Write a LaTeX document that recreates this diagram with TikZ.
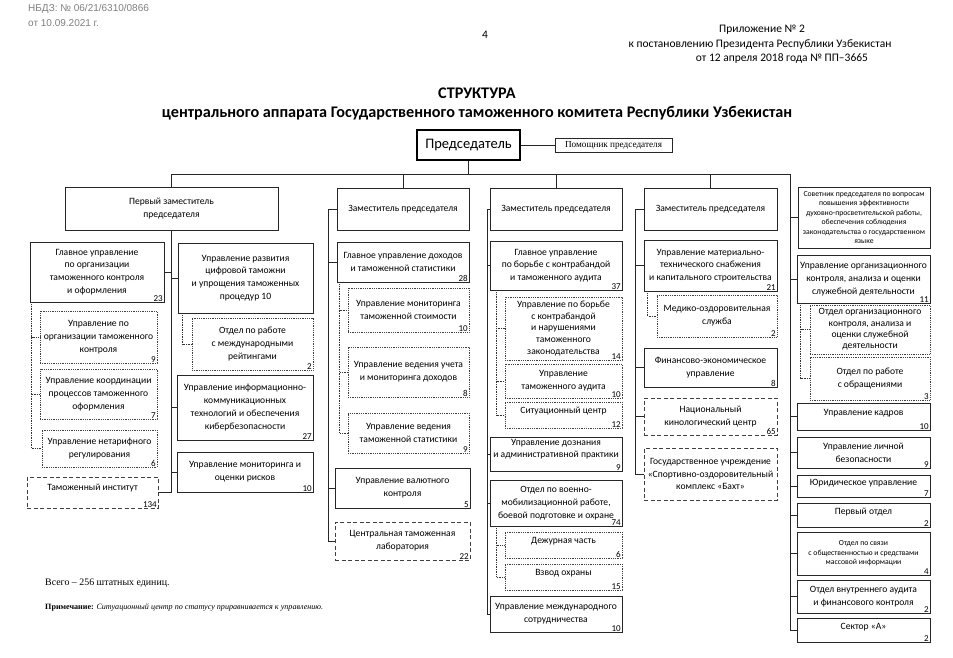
\documentclass[tikz,border=0pt]{standalone}
\usepackage{fontspec}
\setmainfont{Carlito}
\newfontfamily\tmsfont{Liberation Serif}
\newfontfamily\arlfont{Liberation Sans}
\usetikzlibrary{positioning}

\begin{document}
\begin{tikzpicture}[x=1pt, y=-1pt, every node/.style={font=\fontsize{9.6}{12.8}\selectfont},
	ln/.style={draw=black!85, line width=0.7pt},
	dl/.style={draw=black!80, line width=0.7pt, densely dotted},
	b/.style={draw=black!85, line width=0.8pt, fill=white, align=center, inner xsep=0.5pt, inner ysep=1pt},
	sb/.style={b, densely dotted, draw=black!75},
	db/.style={b, dash pattern=on 4pt off 2.5pt, line width=1pt, draw=black!75},
	n/.style={anchor=south east, inner xsep=1.5pt, inner ysep=0.8pt, font=\fontsize{9}{10}\selectfont},
	hd/.style={font=\arlfont\fontsize{10}{12}\selectfont, text=black!50, anchor=west, inner sep=0pt},
	ap/.style={font=\fontsize{11.5}{13}\selectfont, inner sep=0pt},
	tl/.style={font=\bfseries\fontsize{16.2}{18}\selectfont, inner sep=0pt},
	sm/.style={font=\fontsize{7.7}{9.5}\selectfont}]
	\useasboundingbox[fill=white] (0,0) rectangle (953,657);
	\node[hd] (nb1) at (28,9) {НБДЗ: № 06/21/6310/0866};
	\node[hd] (nb2) at (28,23) {от 10.09.2021 г.};
	\node[ap] (pg) at (485,35) {4};
	\node[ap] (ap1) at (762,30) {Приложение № 2};
	\node[ap] (ap2) at (760,45) {к постановлению Президента Республики Узбекистан};
	\node[ap] (ap3) at (782,59) {от 12 апреля 2018 года № ПП–3665};
	\node[tl] (ttl1) at (477,93) {СТРУКТУРА};
	\node[tl] (ttl2) at (477,113) {центрального аппарата Государственного таможенного комитета Республики Узбекистан};

	\node[b, line width=1.8pt, draw=black, minimum width=103, minimum height=30, font=\fontsize{14.5}{16}\selectfont] (ch) at (468.5,145) {Председатель};
	\node[b, minimum width=117, minimum height=14, font=\tmsfont\fontsize{9.2}{10}\selectfont] (as) at (613.5,145) {Помощник председателя};

	\node[b, minimum width=213, minimum height=43] (d1) at (171.5,208.5) {Первый заместитель\\председателя};
	\node[b, minimum width=134, minimum height=60, label={[n]south east:23}] (gu1) at (97,272) {Главное управление\\по организации\\таможенного контроля\\и оформления};
	\node[sb, minimum width=117, minimum height=52, label={[n]south east:9}] (s11) at (98.5,337) {Управление по\\организации таможенного\\контроля};
	\node[sb, minimum width=117, minimum height=50, label={[n]south east:7}] (s12) at (98.5,394) {Управление координации\\процессов таможенного\\оформления};
	\node[sb, minimum width=115, minimum height=37, label={[n]south east:6}] (s13) at (99.5,448.5) {Управление нетарифного\\регулирования};
	\node[db, minimum width=131, minimum height=31, text depth=10pt, label={[n]south east:134}] (inst) at (92.5,492.5) {Таможенный институт};
	\node[b, minimum width=135, minimum height=70] (ur) at (245.5,278) {Управление развития\\цифровой таможни\\и упрощения таможенных\\процедур 10};
	\node[sb, minimum width=121, minimum height=52, label={[n]south east:2}] (s14) at (252.5,344) {Отдел по работе\\с международными\\рейтингами};
	\node[b, minimum width=136, minimum height=65, label={[n]south east:27}] (uikt) at (245,407.5) {Управление информационно-\\коммуникационных\\технологий и обеспечения\\кибербезопасности};
	\node[b, minimum width=136, minimum height=40, label={[n]south east:10}] (umr) at (245,472) {Управление мониторинга и\\оценки рисков};

	\node[b, minimum width=132, minimum height=42] (d2) at (403,209) {Заместитель председателя};
	\node[b, minimum width=132, minimum height=40, label={[n]south east:28}] (gd) at (403,262) {Главное управление доходов\\и таможенной статистики};
	\node[sb, minimum width=121, minimum height=44, label={[n]south east:10}] (s21) at (408.5,310) {Управление мониторинга\\таможенной стоимости};
	\node[sb, minimum width=121, minimum height=50, label={[n]south east:8}] (s22) at (408.5,372) {Управление ведения учета\\и мониторинга доходов};
	\node[sb, minimum width=121, minimum height=40, label={[n]south east:9}] (s23) at (408.5,433) {Управление ведения\\таможенной статистики};
	\node[b, minimum width=135, minimum height=40, label={[n]south east:5}] (uvk) at (402.5,488) {Управление валютного\\контроля};
	\node[db, minimum width=135, minimum height=38, label={[n]south east:22}] (lab) at (402.5,541) {Центральная таможенная\\лаборатория};

	\node[b, minimum width=132, minimum height=42] (d3) at (556,209) {Заместитель председателя};
	\node[b, minimum width=132, minimum height=49, label={[n]south east:37}] (gk) at (556,265.5) {Главное управление\\по борьбе с контрабандой\\и таможенного аудита};
	\node[sb, minimum width=117, minimum height=63, font=\fontsize{9.6}{11.8}\selectfont, label={[n]south east:14}] (s31) at (563.5,328.5) {Управление по борьбе\\с контрабандой\\и нарушениями\\таможенного\\законодательства};
	\node[sb, minimum width=117, minimum height=34, label={[n]south east:10}] (s32) at (563.5,381) {Управление\\таможенного аудита};
	\node[sb, minimum width=117, minimum height=26, text depth=9pt, label={[n]south east:12}] (s33) at (563.5,415) {Ситуационный центр};
	\node[b, minimum width=132, minimum height=34, font=\fontsize{9.6}{11.4}\selectfont, text depth=11pt, label={[n]south east:9}] (ud) at (556,454) {Управление дознания\\и административной практики};
	\node[b, minimum width=132, minimum height=46, label={[n]south east:74}] (ov) at (556,503) {Отдел по военно-\\мобилизационной работе,\\боевой подготовке и охране};
	\node[sb, minimum width=117, minimum height=26, text depth=9pt, label={[n]south east:6}] (s34) at (563.5,545) {Дежурная часть};
	\node[sb, minimum width=117, minimum height=26, text depth=9pt, label={[n]south east:15}] (s35) at (563.5,577) {Взвод охраны};
	\node[b, minimum width=132, minimum height=36, label={[n]south east:10}] (ums) at (556,614) {Управление международного\\сотрудничества};

	\node[b, minimum width=133, minimum height=42] (d4) at (710.5,209) {Заместитель председателя};
	\node[b, minimum width=133, minimum height=51, label={[n]south east:21}] (umt) at (710.5,265.5) {Управление материально-\\технического снабжения\\и капитального строительства};
	\node[sb, minimum width=120, minimum height=42, label={[n]south east:2}] (s41) at (717,316) {Медико-оздоровительная\\служба};
	\node[b, minimum width=133, minimum height=39, label={[n]south east:8}] (fe) at (710.5,367.5) {Финансово-экономическое\\управление};
	\node[db, minimum width=133, minimum height=37, label={[n]south east:65}] (knc) at (710.5,416.5) {Национальный\\кинологический центр};
	\node[db, minimum width=133, minimum height=52] (bakht) at (710.5,474) {Государственное учреждение\\«Спортивно-оздоровительный\\комплекс «Бахт»};

	\node[b, sm, minimum width=132, minimum height=61] (sov) at (864,217.5) {Советник председателя по вопросам\\повышения эффективности\\духовно-просветительской работы,\\обеспечения соблюдения\\законодательства о государственном\\языке};
	\node[b, minimum width=133, minimum height=48, label={[n]south east:11}] (uok) at (863.5,279) {Управление организационного\\контроля, анализа и оценки\\служебной деятельности};
	\node[sb, minimum width=120, minimum height=49, font=\fontsize{9.6}{11.3}\selectfont] (s51) at (870,329.5) {Отдел организационного\\контроля, анализа и\\оценки служебной\\деятельности};
	\node[sb, minimum width=120, minimum height=43, label={[n]south east:3}] (s52) at (870,378.5) {Отдел по работе\\с обращениями};
	\node[b, minimum width=133, minimum height=27, text depth=8pt, label={[n]south east:10}] (uk) at (863.5,416.5) {Управление кадров};
	\node[b, minimum width=133, minimum height=31, label={[n]south east:9}] (ulb) at (863.5,452.5) {Управление личной\\безопасности};
	\node[b, minimum width=133, minimum height=22, text depth=7pt, label={[n]south east:7}] (yu) at (863.5,486) {Юридическое управление};
	\node[b, minimum width=133, minimum height=24, text depth=8pt, label={[n]south east:2}] (po) at (863.5,515) {Первый отдел};
	\node[b, sm, minimum width=133, minimum height=43, label={[n]south east:4}] (os) at (863.5,553.5) {Отдел по связи\\с общественностью и средствами\\массовой информации};
	\node[b, minimum width=133, minimum height=33, label={[n]south east:2}] (ova) at (863.5,596.5) {Отдел внутреннего аудита\\и финансового контроля};
	\node[b, minimum width=133, minimum height=24, text depth=8pt, label={[n]south east:2}] (sa) at (863.5,630) {Сектор «А»};

	\node[anchor=west, inner sep=0pt, font=\tmsfont\fontsize{9.9}{11}\selectfont] (tot) at (45,583) {Всего – 256 штатных единиц.};
	\node[anchor=west, inner sep=0pt, font=\tmsfont\fontsize{8.1}{9}\selectfont] (note) at (45,607) {\textbf{Примечание:} \textit{Ситуационный центр по статусу приравнивается к управлению.}};

	\coordinate (r) at (790,174);
	\coordinate (k2) at (328,0);
	\coordinate (k3) at (487,0);
	\coordinate (k4) at (635,0);
	\draw[ln] (ch.east) -- (as.west);
	\draw[ln] (ch.south) -- (ch.south |- r);
	\draw[ln] (d1.north |- r) -- (r);
	\draw[ln] (d1.north |- r) -- (d1.north);
	\foreach \d in {d2,d3,d4} \draw[ln] (\d.north) -- (\d.north |- r);
	\draw[ln] (r) -- (r |- sa.west);
	\foreach \c in {sov,uok,uk,ulb,yu,po,os,ova,sa} \draw[ln] (\c.west) -- (\c.west -| r);
	\draw[ln] (d1.south) -- (d1.south |- inst.east);
	\foreach \c in {gu1,inst} \draw[ln] (\c.east) -- (\c.east -| d1.south);
	\foreach \c in {ur,uikt,umr} \draw[ln] (\c.west) -- (\c.west -| d1.south);
	\draw[ln] (d2.west) -- (d2.west -| k2) -- (k2 |- lab.west) -- (lab.west);
	\foreach \c in {gd,uvk} \draw[ln] (\c.west) -- (\c.west -| k2);
	\draw[ln] (d3.west) -- (d3.west -| k3) -- (k3 |- ums.west) -- (ums.west);
	\foreach \c in {gk,ud,ov} \draw[ln] (\c.west) -- (\c.west -| k3);
	\draw[ln] (d4.west) -- (d4.west -| k4) -- (k4 |- bakht.west) -- (bakht.west);
	\foreach \c in {umt,fe,knc} \draw[ln] (\c.west) -- (\c.west -| k4);
	\foreach \c in {s11,s12,s13} \draw[dl] ([xshift=2]gu1.south west) |- (\c.west);
	\draw[dl] ([xshift=5]ur.south west) |- (s14.west);
	\foreach \c in {s21,s22,s23} \draw[dl] ([xshift=3]gd.south west) |- (\c.west);
	\foreach \c in {s31,s32,s33} \draw[dl] ([xshift=7]gk.south west) |- (\c.west);
	\foreach \c in {s34,s35} \draw[dl] ([xshift=7]ov.south west) |- (\c.west);
	\draw[dl] ([xshift=4]umt.south west) |- (s41.west);
	\foreach \c in {s51,s52} \draw[dl] ([xshift=4]uok.south west) |- (\c.west);
\end{tikzpicture}
\end{document}
